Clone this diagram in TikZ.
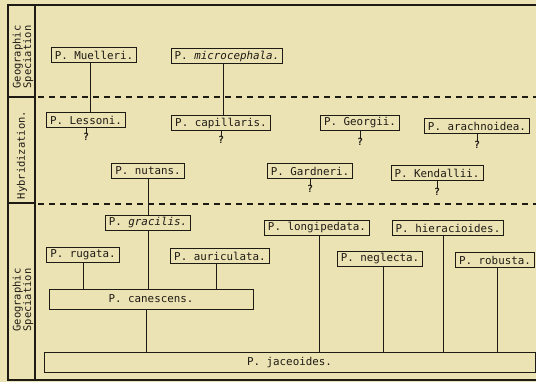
\documentclass[tikz,border=0pt]{standalone}
\usepackage{fontspec}
\newfontfamily\mono{DejaVu Sans Mono}
\newfontfamily\sidefont{DejaVu Sans Mono}
\usetikzlibrary{backgrounds,positioning}
\definecolor{paper}{RGB}{236,227,180}
\definecolor{ink}{RGB}{30,26,20}
\tikzset{
  sp/.style={draw=ink, line width=0.9pt, fill=paper, text=ink,
    font=\mono\fontsize{10.9}{12}\selectfont, inner xsep=3.5bp, inner ysep=1bp,
    minimum height=15bp},
  wide/.style={sp, minimum height=20bp},
  qm/.style={text=ink, font=\mono\bfseries\fontsize{10}{10}\selectfont, inner sep=0pt},
  link/.style={draw=ink, line width=1pt},
  frame/.style={draw=ink, line width=1.1pt},
  sep/.style={draw=ink, line width=1.1pt, dash pattern=on 6bp off 5bp},
  side/.style={text=ink, rotate=90, align=center,
    font=\sidefont\fontsize{10.5}{10.5}\selectfont, inner sep=0pt}
}
\begin{document}
\begin{tikzpicture}[x=1bp,y=-1bp]
\useasboundingbox (0,0) rectangle (536,382);
% nodes
\node[sp] (Muelleri) at (94,55) {P. Muelleri.};
\node[sp] (microcephala) at (227,56) {P. \textit{microcephala.}};
\node[sp] (Lessoni) at (86,120) {P. Lessoni.};
\node[sp] (capillaris) at (221,123) {P. capillaris.};
\node[sp] (Georgii) at (360,123) {P. Georgii.};
\node[sp] (arachnoidea) at (477,126) {P. arachnoidea.};
\node[sp] (nutans) at (148,171) {P. nutans.};
\node[sp] (Gardneri) at (310,171) {P. Gardneri.};
\node[sp] (Kendallii) at (437,173) {P. Kendallii.};
\node[sp] (gracilis) at (148,223) {P. \textit{gracilis.}};
\node[sp] (rugata) at (83,255) {P. rugata.};
\node[sp] (auriculata) at (220,256) {P. auriculata.};
\node[wide, minimum width=204bp] (canescens) at (151,299) {P. canescens.};
\node[wide, minimum width=491bp] (jaceoides) at (289.5,362) {P. jaceoides.};
\node[sp] (longipedata) at (317,228) {P. longipedata.};
\node[sp] (hieracioides) at (448,228) {P. hieracioides.};
\node[sp] (neglecta) at (380,259) {P. neglecta.};
\node[sp] (robusta) at (495,260) {P. robusta.};
% question marks
\node[qm, below=5bp of Lessoni] (qLessoni) {?};
\node[qm, below=5bp of capillaris] (qcapillaris) {?};
\node[qm, below=7bp of Georgii] (qGeorgii) {?};
\node[qm, below=7bp of arachnoidea] (qarachnoidea) {?};
\node[qm, below=6bp of Gardneri] (qGardneri) {?};
\node[qm, below=7bp of Kendallii] (qKendallii) {?};
% side labels
\node[side] (geo1) at (23,57) {Geographic\\Speciation};
\node[side] (hyb) at (22,155) {Hybridization.};
\node[side] (geo2) at (23,300) {Geographic\\Speciation};
\begin{pgfonlayer}{background}
\fill[paper] (0,0) rectangle (536,382);
% frame
\draw[frame] (536,5) -- (8,5) -- (8,380) -- (536,380);
\draw[frame] (35,5) -- (35,380);
\draw[frame] (8,97) -- (35,97);
\draw[frame] (8,203) -- (35,203);
\draw[sep] (38,97) -- (536,97);
\draw[sep] (38,204) -- (536,204);
% connectors
\draw[link] ([xshift=-4bp]Muelleri.south) -- ([xshift=-4bp]Muelleri.south |- Lessoni.north);
\draw[link] ([xshift=-4bp]microcephala.south) -- ([xshift=-4bp]microcephala.south |- capillaris.north);
\draw[link] (nutans.south) -- (nutans.south |- canescens.north);
\draw[link] (rugata.south) -- (rugata.south |- canescens.north);
\draw[link] ([xshift=-4bp]auriculata.south) -- ([xshift=-4bp]auriculata.south |- canescens.north);
\draw[link] ([xshift=-5bp]canescens.south) -- ([xshift=-5bp]canescens.south |- jaceoides.north);
\draw[link] ([xshift=2bp]longipedata.south) -- ([xshift=2bp]longipedata.south |- jaceoides.north);
\draw[link] ([xshift=3bp]neglecta.south) -- ([xshift=3bp]neglecta.south |- jaceoides.north);
\draw[link] ([xshift=-5bp]hieracioides.south) -- ([xshift=-5bp]hieracioides.south |- jaceoides.north);
\draw[link] ([xshift=2bp]robusta.south) -- ([xshift=2bp]robusta.south |- jaceoides.north);
\draw[link] (Lessoni.south) -- ([yshift=-1bp]qLessoni.north);
\draw[link] (capillaris.south) -- ([yshift=-1bp]qcapillaris.north);
\draw[link] (Georgii.south) -- ([yshift=-1bp]qGeorgii.north);
\draw[link] (arachnoidea.south) -- ([yshift=-1bp]qarachnoidea.north);
\draw[link] (Gardneri.south) -- ([yshift=-1bp]qGardneri.north);
\draw[link] (Kendallii.south) -- ([yshift=-1bp]qKendallii.north);
\end{pgfonlayer}
\end{tikzpicture}
\end{document}
